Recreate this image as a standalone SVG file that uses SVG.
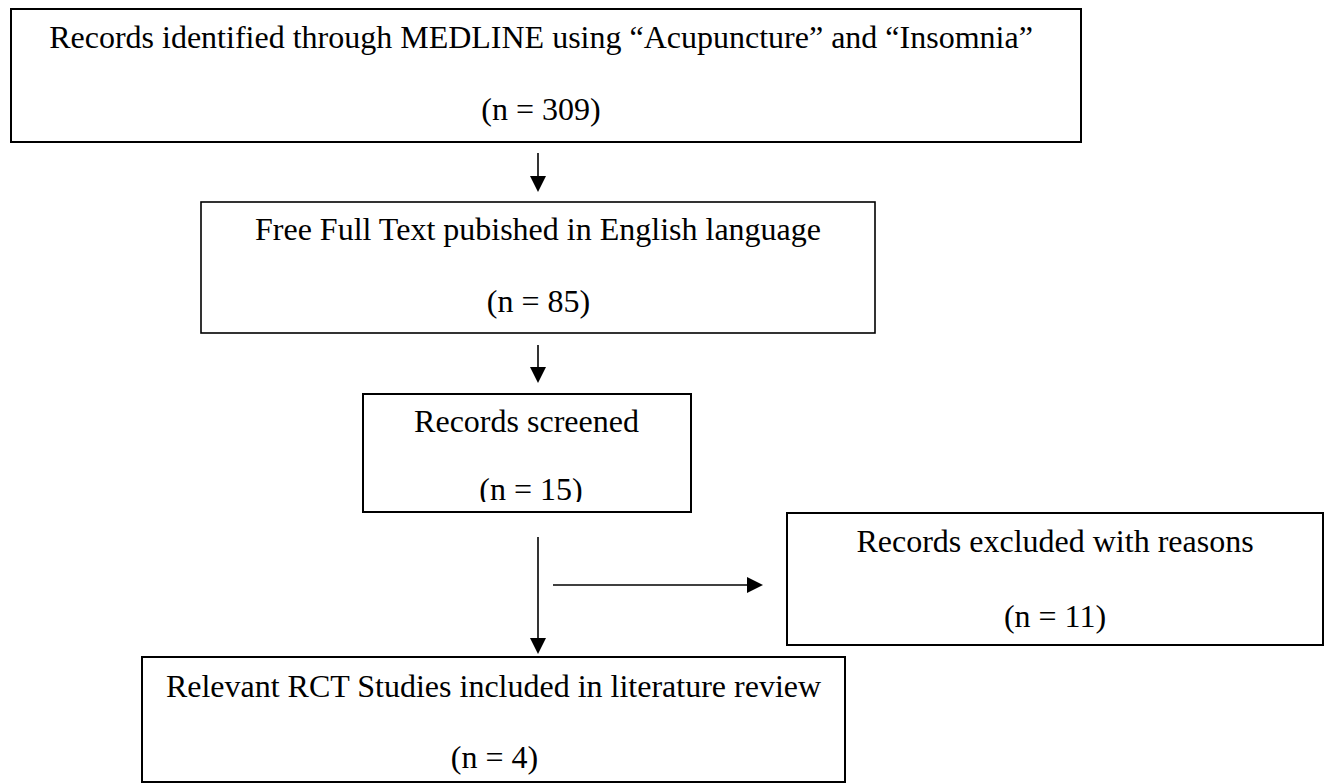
<svg xmlns="http://www.w3.org/2000/svg" width="1329" height="784" viewBox="0 0 1329 784">
<style>
.box{fill:#fff;stroke:#000;stroke-width:2}
.t{font-family:"Liberation Serif","Times New Roman",serif;font-size:32px;fill:#000;text-anchor:middle}
.c{stroke:#000;stroke-width:1.6;fill:none}
</style>
<defs>
<marker id="ah" markerWidth="10" markerHeight="10" refX="10" refY="5" orient="auto" markerUnits="userSpaceOnUse" viewBox="0 0 10 10">
<path d="M0,0 L10,5 L0,10 Z" fill="#000"/>
</marker>
<clipPath id="clip3"><rect x="363" y="394" width="328" height="108"/></clipPath>
</defs>
<rect width="1329" height="784" fill="#fff"/>
<g id="n1">
<rect class="box" x="11" y="9" width="1070" height="133"/>
<text class="t" x="541" y="48">Records identified through MEDLINE using “Acupuncture” and “Insomnia”</text>
<text class="t" x="541" y="120">(n = 309)</text>
</g>
<g id="n2">
<rect class="box" x="201" y="202" width="674" height="131" style="stroke-width:1.6"/>
<text class="t" x="538" y="240">Free Full Text pubished in English language</text>
<text class="t" x="538.5" y="312">(n = 85)</text>
</g>
<g id="n3">
<rect class="box" x="363" y="394" width="328" height="118"/>
<g clip-path="url(#clip3)">
<text class="t" x="526.5" y="432">Records screened</text>
<text class="t" x="531" y="500">(n = 15)</text>
</g>
</g>
<g id="n4">
<rect class="box" x="787" y="513" width="536" height="132"/>
<text class="t" x="1055" y="552">Records excluded with reasons</text>
<text class="t" x="1055" y="627">(n = 11)</text>
</g>
<g id="n5">
<rect class="box" x="142" y="657" width="703" height="125"/>
<text class="t" x="493.5" y="697">Relevant RCT Studies included in literature review</text>
<text class="t" x="494.5" y="768">(n = 4)</text>
</g>
<g id="connectors">
<path class="c" d="M538,153 V176"/>
<path d="M530,176 L546,176 L538,192 Z" fill="#000"/>
<path class="c" d="M538,345 V367"/>
<path d="M530,367 L546,367 L538,383 Z" fill="#000"/>
<path class="c" d="M538,537 V638"/>
<path d="M530,638 L546,638 L538,654 Z" fill="#000"/>
<path class="c" d="M553,585 H747"/>
<path d="M747,577 L747,593 L763,585 Z" fill="#000"/>
</g>
</svg>
